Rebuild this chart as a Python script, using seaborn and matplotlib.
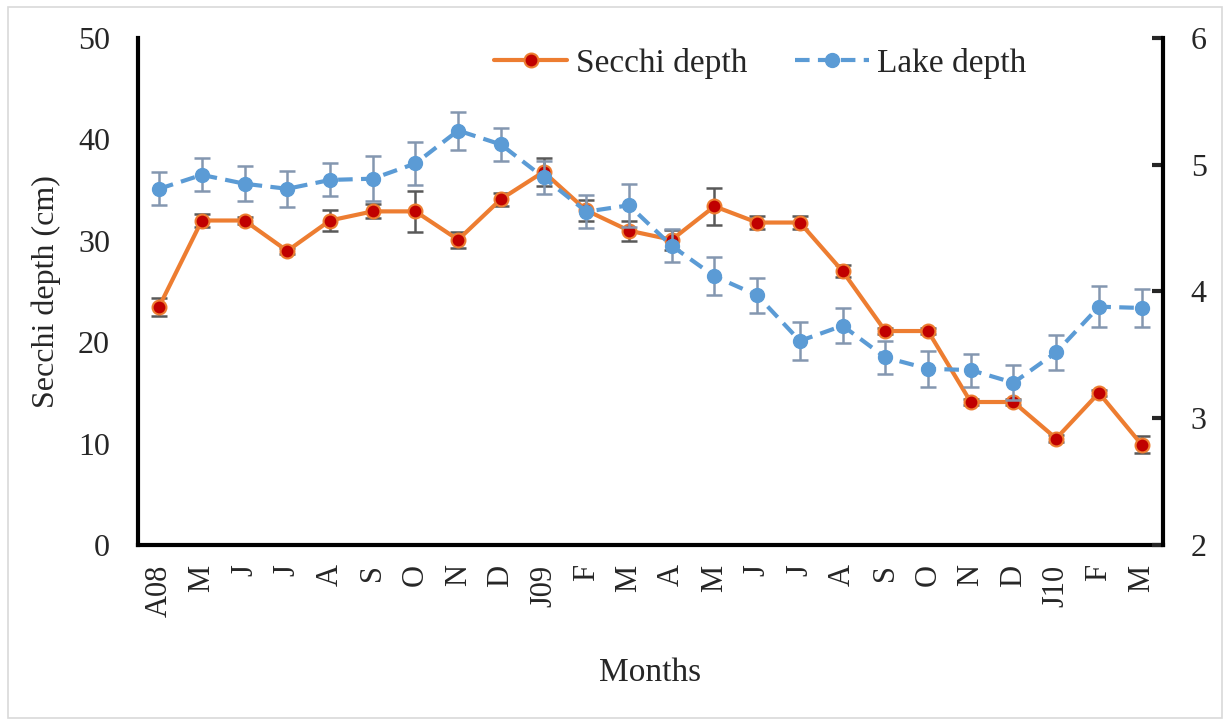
import matplotlib
matplotlib.use("Agg")
import matplotlib.pyplot as plt
from matplotlib.patches import Rectangle
import seaborn as sns
import numpy as np
import pandas as pd

months = ["A08", "M", "J", "J", "A", "S", "O", "N", "D", "J09", "F", "M",
          "A", "M", "J", "J", "A", "S", "O", "N", "D", "J10", "F", "M"]
secchi = [23.5, 32.0, 32.0, 29.0, 32.0, 32.9, 32.9, 30.1, 34.1, 36.8, 33.0, 31.0,
          30.1, 33.4, 31.8, 31.8, 27.0, 21.1, 21.1, 14.1, 14.1, 10.5, 15.0, 9.9]
secchi_err = [0.9, 0.6, 0.3, 0.3, 1.0, 0.7, 2.0, 0.8, 0.65, 1.4, 1.0, 1.0,
              1.0, 1.8, 0.6, 0.6, 0.6, 0.3, 0.3, 0.3, 0.3, 0.3, 0.3, 0.8]
lake = [4.81, 4.92, 4.85, 4.81, 4.88, 4.89, 5.01, 5.27, 5.16, 4.90, 4.63, 4.68,
        4.36, 4.12, 3.97, 3.61, 3.73, 3.48, 3.39, 3.38, 3.28, 3.52, 3.88, 3.87]
lake_err = [0.13, 0.13, 0.14, 0.14, 0.13, 0.18, 0.17, 0.15, 0.13, 0.13, 0.13, 0.17,
            0.13, 0.15, 0.14, 0.15, 0.14, 0.13, 0.14, 0.13, 0.14, 0.14, 0.16, 0.15]

df = pd.DataFrame({"pos": np.arange(len(months)), "secchi": secchi, "lake": lake})

sns.set_style("white")
plt.rcParams["font.family"] = ["Liberation Serif", "DejaVu Serif"]

fig = plt.figure(figsize=(12.3, 7.25), dpi=100)
ax = fig.add_axes([0.112, 0.2483, 0.8335, 0.6993])
ax2 = ax.twinx()

orange = "#ed7d31"
red = "#c00000"
blue = "#5b9bd5"

# Secchi depth (left axis)
ax.errorbar(df["pos"], df["secchi"], yerr=secchi_err, fmt="none",
            ecolor="#595959", elinewidth=1.8, capsize=6, capthick=1.8, zorder=2)
sns.lineplot(data=df, x="pos", y="secchi", ax=ax, color=orange, linewidth=3,
             marker="o", markersize=10, markerfacecolor=red,
             markeredgecolor=orange, markeredgewidth=1.5, zorder=3,
             label="Secchi depth", legend=False)

# Lake depth (right axis)
ax2.errorbar(df["pos"], df["lake"], yerr=lake_err, fmt="none",
             ecolor="#8497b0", elinewidth=1.8, capsize=6, capthick=1.8, zorder=2)
sns.lineplot(data=df, x="pos", y="lake", ax=ax2, color=blue, linewidth=3,
             linestyle=(0, (3.5, 2)), marker="o", markersize=10,
             markerfacecolor=blue, markeredgecolor=blue, markeredgewidth=1,
             zorder=3, label="Lake depth", legend=False)

ax.set_xlim(-0.5, len(months) - 0.5)
ax.set_ylim(0, 50)
ax2.set_ylim(2, 6)
ax.set_yticks(np.arange(0, 51, 10))
ax2.set_yticks(np.arange(2, 7, 1))
ax.set_xticks(df["pos"])
ax.set_xticklabels(months, rotation=90, fontsize=22)
ax.tick_params(axis="y", labelsize=23, length=0, pad=20)
ax.tick_params(axis="x", length=0, pad=14)
ax2.tick_params(axis="y", labelsize=23, direction="in", length=8, width=3, pad=20)

ax.set_xlabel("Months", fontsize=24, labelpad=29)
ax.set_ylabel("Secchi depth (cm)", fontsize=23, labelpad=12)
ax2.set_ylabel("")

for a in (ax, ax2):
    a.spines["top"].set_visible(False)
    for s in ("left", "right", "bottom"):
        a.spines[s].set_color("black")
        a.spines[s].set_linewidth(3)
ax.spines["right"].set_visible(False)
ax2.spines["left"].set_visible(False)
ax2.spines["bottom"].set_visible(False)

h1, l1 = ax.get_legend_handles_labels()
h2, l2 = ax2.get_legend_handles_labels()
fig.legend(h1 + h2, l1 + l2, loc="center", bbox_to_anchor=(0.618, 0.913),
           ncol=2, frameon=False, fontsize=24, handlelength=2.2,
           columnspacing=1.45, handletextpad=0.25)

fig.patches.append(Rectangle((8 / 1230, 7 / 725), 1214 / 1230, 711 / 725,
                             transform=fig.transFigure, fill=False,
                             edgecolor="#d9d9d9", linewidth=1.2))

fig.savefig("out.png", dpi=100)
